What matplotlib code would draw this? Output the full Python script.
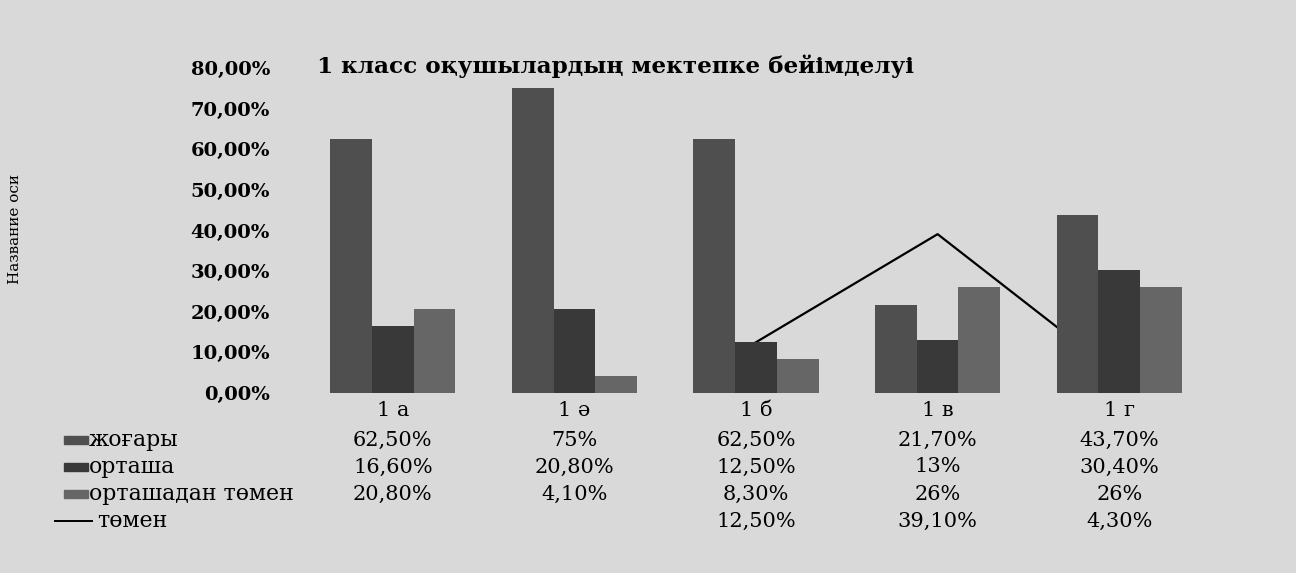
import numpy as np
import matplotlib
matplotlib.use("Agg")
import matplotlib.pyplot as plt
from matplotlib.patches import Rectangle
from matplotlib.lines import Line2D

plt.rcParams['font.family'] = ['DejaVu Serif', 'DejaVu Sans']

# ---- data ----
categories = ["1 а", "1 ә", "1 б", "1 в", "1 г"]
series_names = ["жоғары", "орташа", "орташадан төмен", "төмен"]
zhogary = [62.5, 75.0, 62.5, 21.7, 43.7]
ortasha = [16.6, 20.8, 12.5, 13.0, 30.4]
ortashadan_tomen = [20.8, 4.1, 8.3, 26.0, 26.0]
tomen = [np.nan, np.nan, 12.5, 39.1, 4.3]
y_ticks = [0, 10, 20, 30, 40, 50, 60, 70, 80]
title = "1 класс оқушылардың мектепке бейімделуі"
y_axis_title = "Название оси"

bar_series = [zhogary, ortasha, ortashadan_tomen]
bar_colors = ['#4f4f4f', '#393939', '#666666']
bg = '#d9d9d9'

W, H = 1296, 573
fig = plt.figure(figsize=(W / 100, H / 100), dpi=100, facecolor=bg)
ax = fig.add_axes([302 / W, (H - 393) / H, 908 / W, 325 / H])
ax.set_facecolor(bg)

x = np.arange(len(categories))
bw = 0.23
for i, (vals, col) in enumerate(zip(bar_series, bar_colors)):
    ax.bar(x + (i - 1) * bw, vals, width=bw, color=col, zorder=3)
ax.plot(x, tomen, color='black', lw=1.6, zorder=2)

ax.set_xlim(-0.5, len(categories) - 0.5)
ax.set_ylim(0, 80)
ax.set_yticks(y_ticks)
ax.set_yticklabels([f"{v:.2f}".replace('.', ',') + "%" for v in y_ticks],
                   fontsize=14, fontweight='bold')
ax.tick_params(axis='y', length=0, pad=23)
ax.set_xticks([])
for s in ax.spines.values():
    s.set_visible(False)

# title and axis title
fig.text(317 / W, (H - 73) / H, title, fontsize=16.7, fontweight='bold',
         ha='left', va='baseline')
fig.text(15 / W, (H - 229) / H, y_axis_title, fontsize=11, rotation=90,
         ha='center', va='center')

# data table
def fmt(v):
    if np.isnan(v):
        return ""
    if float(v).is_integer():
        return f"{int(v)}%"
    return f"{v:.2f}".replace('.', ',') + "%"

def ay(ypx):
    return (393 - ypx) / 325

trans = ax.get_xaxis_transform()
for xi, c in zip(x, categories):
    ax.text(xi, ay(411), c, transform=trans, ha='center', va='center',
            fontsize=15, clip_on=False)

rows_px = [440, 467, 494, 521]
all_series = [zhogary, ortasha, ortashadan_tomen, tomen]
for ypx, vals in zip(rows_px, all_series):
    for xi, v in zip(x, vals):
        ax.text(xi, ay(ypx), fmt(v), transform=trans, ha='center',
                va='center', fontsize=15, clip_on=False)

# row labels with legend keys
for k, (ypx, name) in enumerate(zip(rows_px, series_names)):
    yf = (H - ypx) / H
    if k < 3:
        fig.patches.append(Rectangle((64 / W, yf - 4 / H), 24 / W, 8 / H,
                                     transform=fig.transFigure,
                                     color=bar_colors[k]))
        tx = 89
    else:
        fig.lines.append(Line2D([55 / W, 92 / W], [yf, yf],
                                transform=fig.transFigure, color='black',
                                lw=1.4))
        tx = 97
    fig.text(tx / W, yf, name, fontsize=15.8, ha='left', va='center')

fig.savefig("out.png", dpi=100, facecolor=bg)
